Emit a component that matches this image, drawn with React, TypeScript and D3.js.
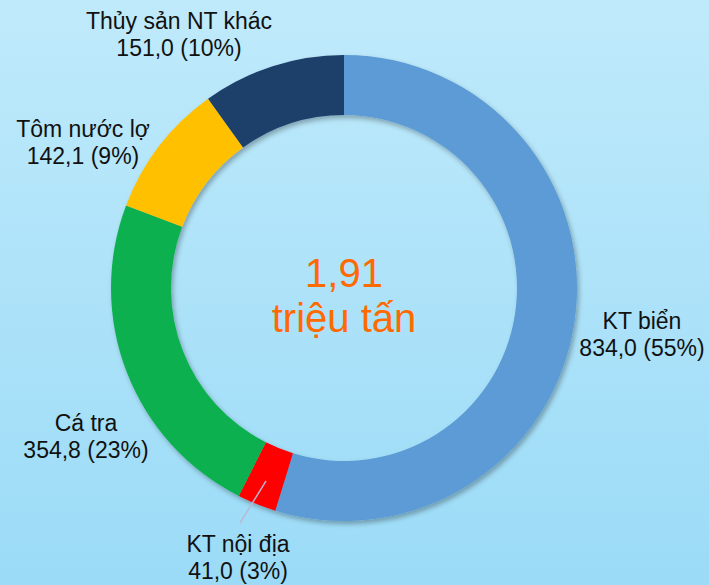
import React from "react";
import * as d3 from "d3";

const categories = ["KT biển", "KT nội địa", "Cá tra", "Tôm nước lợ", "Thủy sản NT khác"];
const values = [834.0, 41.0, 354.8, 142.1, 151.0];
const valueLabels = ["834,0 (55%)", "41,0 (3%)", "354,8 (23%)", "142,1 (9%)", "151,0 (10%)"];
const colors = ["#5b9bd5", "#ff0000", "#0fb04f", "#ffc000", "#1f3f6b"];
const centerLines = ["1,91", "triệu tấn"];

const W = 709;
const H = 585;
const cx = 344;
const cy = 288;
const outerR = 233;
const innerR = 173;

// label anchor positions (center x, first baseline y)
const labelPos: [number, number][] = [
  [642, 329],
  [238, 552],
  [86, 431],
  [83, 137],
  [179, 29],
];

export default function App() {
  const pie = d3
    .pie<number>()
    .sort(null)
    .value((d) => d)
    .startAngle(0)
    .endAngle(2 * Math.PI);
  const arcs = pie(values);
  const arcGen = d3.arc<d3.PieArcDatum<number>>().innerRadius(innerR).outerRadius(outerR);

  // leader line for small slice
  const small = arcs[1];
  const mid = (small.startAngle + small.endAngle) / 2;
  const rMid = (innerR + outerR) / 2 + 5;
  const lx1 = cx + Math.sin(mid) * rMid;
  const ly1 = cy - Math.cos(mid) * rMid;

  return (
    <svg
      width={W}
      height={H}
      style={{ position: "absolute", left: 0, top: 0 }}
      fontFamily="'Liberation Sans', Arial, sans-serif"
    >
      <defs>
        <linearGradient id="bg" x1="0" y1="0" x2="0" y2="1">
          <stop offset="0%" stopColor="#bfeafb" />
          <stop offset="100%" stopColor="#9bdbf7" />
        </linearGradient>
        <filter id="shadow" x="-10%" y="-10%" width="120%" height="120%">
          <feDropShadow dx="2" dy="3" stdDeviation="2.5" floodColor="#000" floodOpacity="0.3" />
        </filter>
      </defs>
      <rect x={0} y={0} width={W} height={H} fill="url(#bg)" />
      <g transform={`translate(${cx},${cy})`} filter="url(#shadow)">
        {arcs.map((a, i) => (
          <path key={i} d={arcGen(a) || ""} fill={colors[i]} />
        ))}
      </g>
      <line x1={lx1} y1={ly1} x2={240} y2={523} stroke="#b9b9d6" strokeWidth={1.5} />
      {categories.map((c, i) => (
        <text key={i} textAnchor="middle" fontSize={23} fill="#111">
          <tspan x={labelPos[i][0]} y={labelPos[i][1]}>
            {c}
          </tspan>
          <tspan x={labelPos[i][0]} y={labelPos[i][1] + 27}>
            {valueLabels[i]}
          </tspan>
        </text>
      ))}
      <text textAnchor="middle" fontSize={40} fill="#ff6a00">
        <tspan x={cx} y={287}>
          {centerLines[0]}
        </tspan>
        <tspan x={cx} y={332}>
          {centerLines[1]}
        </tspan>
      </text>
    </svg>
  );
}
